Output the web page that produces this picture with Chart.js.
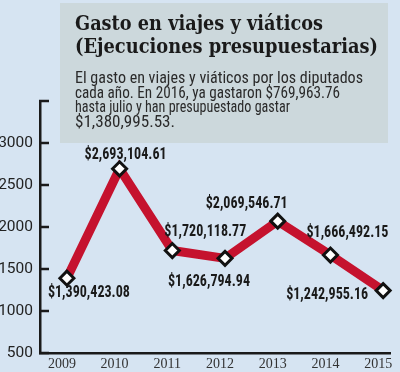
<!DOCTYPE html>
<html>
<head>
<meta charset="utf-8">
<script src="https://cdn.jsdelivr.net/npm/chart.js@4"></script>
<style>
  html, body { margin: 0; padding: 0; background: #d6e4f2; }
  canvas { display: block; }
</style>
</head>
<body>
<canvas id="myChart" width="400" height="372"></canvas>
<script>
// datos (miles de pesos)
var years = ['2009', '2010', '2011', '2012', '2013', '2014', '2015'];
var gasto = [1390.42308, 2693.10461, 1720.11877, 1626.79494, 2069.54671, 1666.49215, 1242.95516];
var etiquetas = ['$1,390,423.08', '$2,693,104.61', '$1,720,118.77', '$1,626,794.94',
                 '$2,069,546.71', '$1,666,492.15', '$1,242,955.16'];
var yTicks = [500, 1000, 1500, 2000, 2500, 3000, 3500];

var titulo = ['Gasto en viajes y viáticos', '(Ejecuciones presupuestarias)'];
var texto = ['El gasto en viajes y viáticos por los diputados',
             'cada año. En 2016, ya gastaron $769,963.76',
             'hasta julio y han presupuestado gastar',
             '$1,380,995.53.'];

// where each value label sits relative to its point
var labelOffsets = [[22, 15], [6, -14], [33, -19], [-16, 24], [-31, -17], [17, -22], [-56, 4]];

function fitText(ctx, txt, x, y, w) {
    var m = ctx.measureText(txt).width;
    ctx.save();
    ctx.translate(x, y);
    ctx.scale(w / m, 1);
    ctx.fillText(txt, 0, 0);
    ctx.restore();
}

var fondo = {
    id: 'fondo',
    beforeDraw: function (chart) {
        var c = chart.ctx;
        c.save();
        c.fillStyle = '#d6e4f2';
        c.fillRect(0, 0, chart.width, chart.height);
        c.fillStyle = '#ccd8dc';
        c.fillRect(60, 3, 328, 140);
        c.fillStyle = '#1a1a1a';
        c.textBaseline = 'alphabetic';
        c.font = 'bold 21px "DejaVu Serif"';
        fitText(c, titulo[0], 75, 30, 248);
        fitText(c, titulo[1], 75, 53, 303);
        c.fillStyle = '#2a2a2a';
        c.font = '16px "Roboto Condensed", "Liberation Sans"';
        var widths = [288, 265, 215, 100];
        var base = [83, 97.5, 112, 126.5];
        for (var i = 0; i < texto.length; i++) {
            fitText(c, texto[i], 75, base[i], widths[i]);
        }
        c.restore();
    }
};

var marcas = {
    id: 'marcas',
    afterDraw: function (chart) {
        var c = chart.ctx;
        var ys = chart.scales.y;
        var x0 = chart.chartArea.left;
        c.save();
        c.strokeStyle = '#1a1a1a';
        c.lineWidth = 2.5;
        ys.ticks.forEach(function (t) {
            var py = ys.getPixelForValue(t.value);
            c.beginPath();
            c.moveTo(x0 - 1, py);
            c.lineTo(x0 + 9, py);
            c.stroke();
        });
        // value labels
        var meta = chart.getDatasetMeta(0);
        c.font = 'bold 16px "Roboto Condensed", "Liberation Sans"';
        c.fillStyle = '#1a1a1a';
        c.textBaseline = 'middle';
        var k = 82 / c.measureText(etiquetas[0]).width;
        meta.data.forEach(function (p, i) {
            var w = c.measureText(etiquetas[i]).width * k;
            fitText(c, etiquetas[i], p.x + labelOffsets[i][0] - w / 2, p.y + labelOffsets[i][1], w);
        });
        c.restore();
    }
};

var ctx = document.getElementById('myChart').getContext('2d');
var myChart = new Chart(ctx, {
    type: 'line',
    data: {
        datasets: [{
            data: years.map(function (y, i) { return { x: +y, y: gasto[i] }; }),
            borderColor: '#c5122e',
            borderWidth: 9,
            tension: 0,
            clip: false,
            pointStyle: 'rectRot',
            pointRadius: 7,
            pointBackgroundColor: '#ffffff',
            pointBorderColor: '#111111',
            pointBorderWidth: 3
        }]
    },
    options: {
        responsive: false,
        animation: false,
        devicePixelRatio: 1,
        layout: { padding: { top: 101, left: 0, right: 0, bottom: 0 } },
        plugins: { legend: { display: false }, tooltip: { enabled: false } },
        scales: {
            x: {
                type: 'linear',
                min: 2008.49,
                max: 2015.13,
                afterBuildTicks: function (s) {
                    s.ticks = years.map(function (y) { return { value: +y }; });
                },
                afterFit: function (s) {
                    s.height = 19;
                    s.paddingLeft = 0;
                    s.paddingRight = 0;
                },
                grid: { display: true, drawOnChartArea: false, drawTicks: false },
                border: { color: '#1a1a1a', width: 2.5 },
                ticks: {
                    autoSkip: false,
                    maxRotation: 0,
                    padding: 3,
                    labelOffset: -5,
                    color: '#333',
                    font: { family: '"Liberation Serif"', size: 14 },
                    callback: function (v) { return String(v); }
                }
            },
            y: {
                min: 500,
                max: 3500,
                afterBuildTicks: function (s) {
                    s.ticks = yTicks.map(function (v) { return { value: v }; });
                },
                afterFit: function (s) {
                    s.width = 40;
                    s.paddingTop = 0;
                    s.paddingBottom = 0;
                },
                grid: { display: true, drawOnChartArea: false, drawTicks: false },
                border: { color: '#1a1a1a', width: 2.5 },
                ticks: {
                    padding: 7,
                    color: '#222',
                    font: { family: 'Roboto', size: 15.5 },
                    callback: function (v) { return v === 3500 ? '' : v; }
                }
            }
        }
    },
    plugins: [fondo, marcas]
});
</script>
</body>
</html>
